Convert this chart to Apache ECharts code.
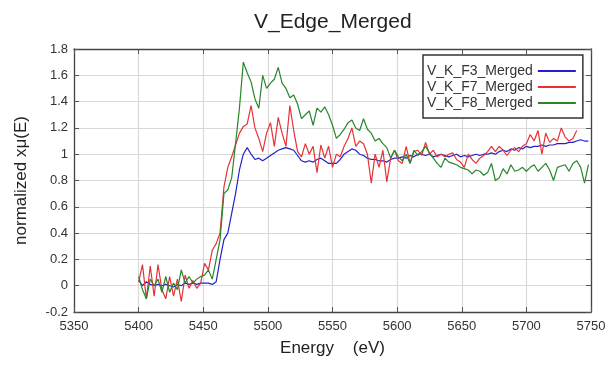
<!DOCTYPE html>
<html>
<head>
<meta charset="utf-8">
<script src="https://cdn.jsdelivr.net/npm/echarts@6/dist/echarts.min.js"></script>
<style>
  html, body { margin: 0; padding: 0; background: #fff; }
  #chart { width: 609px; height: 365px; }
</style>
</head>
<body>
<div id="chart"></div>
<script>
// energy grid (eV), shared by the three spectra
const energy = [
  5400, 5403, 5406, 5409, 5412, 5415, 5418, 5421, 5424, 5427,
  5430, 5433, 5436, 5439, 5442, 5445, 5448, 5451, 5454, 5457,
  5460, 5463, 5466, 5469, 5472, 5475, 5478, 5481, 5484, 5487,
  5490, 5493, 5496, 5499, 5502, 5505, 5508, 5511, 5514, 5517,
  5520, 5523, 5526, 5529, 5532, 5535, 5538, 5541, 5544, 5547,
  5550, 5553, 5556, 5559, 5562, 5565, 5568, 5571, 5574, 5577,
  5580, 5583, 5586, 5589, 5592, 5595, 5598, 5601, 5604, 5607,
  5610, 5613, 5616, 5619, 5622, 5625, 5628, 5631, 5634, 5637,
  5640, 5643, 5646, 5649, 5652, 5655, 5658, 5661, 5664, 5667,
  5670, 5673, 5676, 5679, 5682, 5685, 5688, 5691, 5694, 5697,
  5700, 5703, 5706, 5709, 5712, 5715, 5718, 5721, 5724, 5727,
  5730, 5733, 5736, 5739, 5742, 5745, 5748
]

const f3 = [
  0.04, 0.0, 0.03, 0.01, 0.0, 0.01, 0.0, 0.01, 0.0, -0.01,
  0.01, 0.0, 0.02, 0.01, 0.02, 0.01, 0.02, 0.02, 0.02, 0.01,
  0.03, 0.2, 0.35, 0.4, 0.55, 0.7, 0.88, 1.0, 1.05, 1.0,
  0.96, 0.97, 0.95, 0.97, 0.99, 1.01, 1.03, 1.04, 1.05, 1.04,
  1.03, 0.99, 0.95, 0.94, 0.95, 0.94, 0.96, 0.97, 0.95, 0.93,
  0.93, 0.93, 0.96, 1.0, 1.02, 1.04, 1.03, 1.0, 0.99, 0.97,
  0.96, 0.96, 0.95, 0.95, 0.94, 0.96, 0.97, 0.97, 0.98, 0.97,
  0.99, 0.98, 1.0, 1.0, 0.99, 1.0, 0.98, 0.99, 1.0, 0.99,
  0.98, 0.99, 1.0, 0.98, 0.99, 0.98, 0.99, 1.0, 0.99, 1.0,
  1.0, 1.01, 1.0, 1.02, 1.03, 1.02, 1.04, 1.03, 1.05, 1.04,
  1.06, 1.05, 1.06, 1.06, 1.07, 1.06, 1.07, 1.07, 1.08, 1.08,
  1.08, 1.09, 1.09, 1.1, 1.11, 1.1, 1.1
]

const f7 = [
  0.03, 0.16, -0.1, 0.15, -0.08, 0.16, -0.03, -0.1, 0.07, -0.08,
  0.05, -0.12, 0.08, -0.02, 0.04, -0.02, 0.02, 0.17, 0.12, 0.27,
  0.32, 0.4, 0.75, 0.9, 0.98, 1.07, 1.16, 1.21, 1.23, 1.37,
  1.2, 1.12, 1.02, 1.16, 1.24, 1.06, 1.28, 1.16, 1.06, 1.37,
  1.18, 1.02, 0.98, 1.08, 1.0, 1.06, 0.86, 1.07, 0.97, 1.06,
  0.9, 1.0, 0.98, 1.06, 1.12, 1.2, 1.06, 1.1, 1.08, 1.0,
  0.78, 1.0, 0.9, 1.03, 0.79, 0.97, 1.03, 0.95, 0.93, 1.06,
  0.93, 1.02, 1.03, 0.99, 1.09, 1.0, 1.03, 0.98, 1.0, 0.98,
  1.0, 1.01, 0.96, 0.94, 0.9, 1.0, 0.96, 0.93, 0.97, 0.99,
  1.02, 1.06, 1.02, 1.06, 1.03, 0.99, 1.03, 1.05, 1.02, 1.06,
  1.08, 1.15, 1.1, 1.18, 1.0, 1.16, 1.09, 1.12, 1.1, 1.2,
  1.13, 1.1, 1.12, 1.18
]

const f8 = [
  0.07, -0.03, -0.1, 0.05, 0.0, 0.05, -0.05, 0.07, -0.05, 0.02,
  -0.03, 0.12, 0.02, 0.07, 0.02, 0.05, 0.07, 0.08, 0.12, 0.05,
  0.2, 0.35, 0.7, 0.73, 0.82, 1.08, 1.35, 1.7, 1.62, 1.55,
  1.42, 1.35, 1.6, 1.5, 1.54, 1.57, 1.66, 1.54, 1.5, 1.43,
  1.45, 1.38, 1.27, 1.3, 1.33, 1.22, 1.35, 1.32, 1.36, 1.3,
  1.22, 1.12, 1.15, 1.19, 1.24, 1.26, 1.2, 1.18, 1.27, 1.19,
  1.16, 1.1, 1.12, 1.08, 1.05, 0.97, 1.03, 0.98, 0.95, 1.0,
  0.93, 1.03, 0.99, 1.02, 1.06, 1.01, 0.97, 0.93, 0.9, 0.97,
  0.94, 0.93, 0.92, 0.9, 0.89, 0.88, 0.85, 0.88, 0.87, 0.84,
  0.86, 0.93, 0.8, 0.82, 0.89, 0.85, 0.92, 0.87, 0.88, 0.9,
  0.87, 0.9, 0.92, 0.87, 0.9, 0.93, 0.88, 0.8, 0.9, 0.91,
  0.92, 0.87, 0.93, 0.95, 0.9, 0.78, 0.92
]

const seriesNames = ['V_K_F3_Merged', 'V_K_F7_Merged', 'V_K_F8_Merged']
const seriesColors = ['#2222cc', '#e63236', '#27862b']

function pairs (ys) {
  return ys.map((v, i) => [energy[i], v])
}

const chart = echarts.init(document.getElementById('chart'))

const axisLine = { show: true, onZero: false, lineStyle: { color: '#444', width: 1.3 } }
const tick = { show: true, inside: true, length: 5, lineStyle: { color: '#555' } }
const gridLine = { show: true, lineStyle: { color: '#d9d9d9', width: 1.2 } }

const option = {
  backgroundColor: '#fff',
  animation: false,
  textStyle: { fontFamily: 'Liberation Sans, Arial, sans-serif' },
  title: {
    text: 'V_Edge_Merged',
    left: 249,
    top: 7,
    textStyle: { fontSize: 21, fontWeight: 'normal', color: '#222' }
  },
  grid: { left: 74, right: 18, top: 49, bottom: 53 },
  legend: {
    orient: 'vertical',
    left: 423,
    top: 55,
    align: 'right',
    padding: [8, 7, 7, 4],
    itemGap: 0,
    itemWidth: 38,
    itemHeight: 2,
    borderColor: '#333',
    borderWidth: 1.5,
    backgroundColor: '#fff',
    textStyle: { fontSize: 14, color: '#333', lineHeight: 16 },
    data: seriesNames.map(n => ({ name: n, icon: 'rect' }))
  },
  xAxis: [
    {
      type: 'value',
      min: 5350,
      max: 5750,
      interval: 50,
      name: 'Energy    (eV)',
      nameLocation: 'middle',
      nameGap: 28,
      nameTextStyle: { fontSize: 17, color: '#222' },
      axisLine: axisLine,
      axisTick: tick,
      axisLabel: { fontSize: 13, color: '#333', margin: 8, formatter: v => String(v) },
      splitLine: gridLine
    },
    {
      type: 'value',
      position: 'top',
      min: 5350,
      max: 5750,
      interval: 50,
      axisLine: axisLine,
      axisTick: tick,
      axisLabel: { show: false },
      splitLine: { show: false }
    }
  ],
  yAxis: [
    {
      type: 'value',
      min: -0.2,
      max: 1.8,
      interval: 0.2,
      name: 'normalized xμ(E)',
      nameLocation: 'middle',
      nameGap: 44,
      nameTextStyle: { fontSize: 17, color: '#222' },
      axisLine: axisLine,
      axisTick: tick,
      axisLabel: {
        fontSize: 13,
        color: '#333',
        margin: 6,
        formatter: v => String(Math.round(v * 10) / 10)
      },
      splitLine: gridLine
    },
    {
      type: 'value',
      position: 'right',
      min: -0.2,
      max: 1.8,
      interval: 0.2,
      axisLine: axisLine,
      axisTick: tick,
      axisLabel: { show: false },
      splitLine: { show: false }
    }
  ],
  series: [f3, f7, f8].map((ys, i) => ({
    name: seriesNames[i],
    type: 'line',
    data: pairs(ys),
    showSymbol: false,
    symbol: 'none',
    lineStyle: { width: 1.2, color: seriesColors[i] },
    itemStyle: { color: seriesColors[i] }
  }))
}

chart.setOption(option)
</script>
</body>
</html>
